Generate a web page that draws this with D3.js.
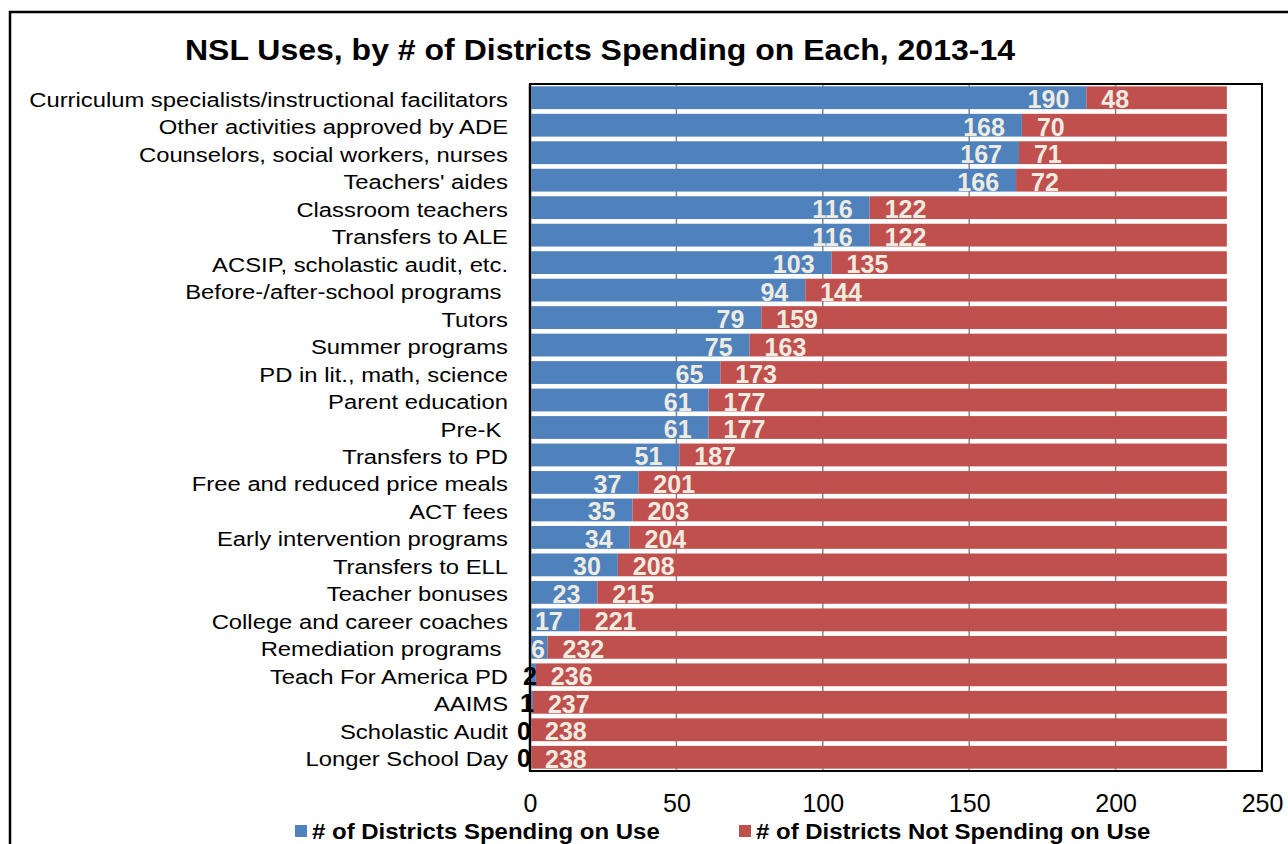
<!DOCTYPE html>
<html>
<head>
<meta charset="utf-8">
<script src="https://cdn.jsdelivr.net/npm/d3@7"></script>
<style>
  html, body { margin: 0; padding: 0; background: #fff; }
  svg { display: block; font-family: "Liberation Sans", Arial, sans-serif; }
  .cat text { white-space: pre; }
</style>
</head>
<body>
<svg id="chart" width="1288" height="844"></svg>
<script>
// Uses of NSL funds, ordered by number of districts spending on each
const categories = [
  "Curriculum specialists/instructional facilitators",
  "Other activities approved by ADE",
  "Counselors, social workers, nurses",
  "Teachers' aides",
  "Classroom teachers",
  "Transfers to ALE",
  "ACSIP, scholastic audit, etc.",
  "Before-/after-school programs ",
  "Tutors",
  "Summer programs",
  "PD in lit., math, science",
  "Parent education",
  "Pre-K ",
  "Transfers to PD",
  "Free and reduced price meals",
  "ACT fees",
  "Early intervention programs",
  "Transfers to ELL",
  "Teacher bonuses",
  "College and career coaches",
  "Remediation programs ",
  "Teach For America PD",
  "AAIMS",
  "Scholastic Audit",
  "Longer School Day"
];
const spending    = [190, 168, 167, 166, 116, 116, 103, 94, 79, 75, 65, 61, 61, 51, 37, 35, 34, 30, 23, 17, 6, 2, 1, 0, 0];
const notSpending = [48, 70, 71, 72, 122, 122, 135, 144, 159, 163, 173, 177, 177, 187, 201, 203, 204, 208, 215, 221, 232, 236, 237, 238, 238];
const xTicks = [0, 50, 100, 150, 200, 250];
const seriesNames = ["# of Districts Spending on Use", "# of Districts Not Spending on Use"];
const chartTitle = "NSL Uses, by # of Districts Spending on Each, 2013-14";

const colors = { spend: "#4f81bd", notSpend: "#c0504d", label: "#eeece1", grid: "#868686" };

const svg = d3.select("#chart");
const plot = { left: 530, right: 1262, top: 84, bottom: 771 };

// widen text horizontally while keeping its height
function stretch(sel, k) {
  sel.each(function () {
    const len = this.getComputedTextLength();
    d3.select(this).attr("textLength", len * k).attr("lengthAdjust", "spacingAndGlyphs");
  });
}

const x = d3.scaleLinear().domain([0, 250]).range([plot.left, plot.right]);
const y = d3.scaleBand().domain(categories).range([plot.top, plot.bottom])
  .paddingInner(0.17).paddingOuter(0.085);

// outer frame
svg.append("path")
  .attr("d", `M10,846 V12 H1290`)
  .attr("fill", "none").attr("stroke", "#000").attr("stroke-width", 2.5);

// title
svg.append("text")
  .attr("x", 600).attr("y", 60)
  .attr("text-anchor", "middle")
  .attr("font-size", 29).attr("font-weight", "bold")
  .attr("textLength", 830).attr("lengthAdjust", "spacingAndGlyphs")
  .text(chartTitle);

// vertical gridlines
svg.append("g").selectAll("line")
  .data(xTicks.slice(1, -1))
  .join("line")
  .attr("x1", d => x(d)).attr("x2", d => x(d))
  .attr("y1", plot.top).attr("y2", plot.bottom)
  .attr("stroke", colors.grid).attr("stroke-width", 1.5);

// stacked bars
const rows = categories.map((c, i) => ({ c, s: spending[i], n: notSpending[i] }));

svg.append("g").selectAll("rect")
  .data(rows)
  .join("rect")
  .attr("x", x(0))
  .attr("y", d => y(d.c))
  .attr("width", d => x(d.s) - x(0))
  .attr("height", y.bandwidth())
  .attr("fill", colors.spend);

svg.append("g").selectAll("rect")
  .data(rows)
  .join("rect")
  .attr("x", d => x(d.s))
  .attr("y", d => y(d.c))
  .attr("width", d => x(d.s + d.n) - x(d.s))
  .attr("height", y.bandwidth())
  .attr("fill", colors.notSpend);

// category axis line
svg.append("line")
  .attr("x1", x(0)).attr("x2", x(0))
  .attr("y1", plot.top).attr("y2", plot.bottom)
  .attr("stroke", colors.grid).attr("stroke-width", 3);

// plot border
svg.append("rect")
  .attr("x", plot.left).attr("y", plot.top)
  .attr("width", plot.right - plot.left).attr("height", plot.bottom - plot.top)
  .attr("fill", "none").attr("stroke", "#000").attr("stroke-width", 2);

// category labels
const yAxis = d3.axisLeft(y).tickSize(0).tickPadding(22);
const yg = svg.append("g").attr("class", "cat").attr("transform", `translate(${x(0)},0)`).call(yAxis);
yg.select(".domain").remove();
yg.selectAll("text")
  .attr("font-size", 20).attr("fill", "#000").attr("dy", "0.45em")
  .attr("font-family", "Liberation Sans, Arial, sans-serif")
  .call(stretch, 1.19);

// x tick labels
const xAxis = d3.axisBottom(x).tickValues(xTicks).tickSize(0).tickPadding(23);
const xg = svg.append("g").attr("transform", `translate(0,${plot.bottom})`).call(xAxis);
xg.select(".domain").remove();
xg.selectAll("text")
  .attr("font-size", 25).attr("fill", "#000")
  .attr("font-family", "Liberation Sans, Arial, sans-serif");

// value labels
const labelG = svg.append("g")
  .attr("font-size", 25).attr("font-weight", "bold");

rows.forEach(d => {
  const cy = y(d.c) + y.bandwidth() / 2;
  if (d.s >= 5) {
    const t = labelG.append("text")
      .attr("y", cy).attr("dy", "0.42em")
      .attr("fill", colors.label)
      .attr("text-anchor", "end")
      .text(d.s);
    const w = t.node().getComputedTextLength();
    t.attr("x", Math.max(x(d.s) - 17, x(0) + w + 1));
  } else {
    labelG.append("text")
      .attr("x", x(d.s) + 1).attr("y", cy).attr("dy", "0.4em")
      .attr("fill", "#000")
      .attr("text-anchor", "end")
      .text(d.s);
  }
  labelG.append("text")
    .attr("x", x(d.s) + 15).attr("y", cy).attr("dy", "0.42em")
    .attr("fill", colors.label)
    .attr("text-anchor", "start")
    .text(d.n);
});

// legend
const legend = svg.append("g").attr("font-size", 22).attr("font-weight", "bold");
[[295, colors.spend, seriesNames[0]], [739, colors.notSpend, seriesNames[1]]].forEach(([lx, col, name]) => {
  legend.append("rect").attr("x", lx).attr("y", 825).attr("width", 12).attr("height", 12).attr("fill", col);
  legend.append("text").attr("x", lx + 17).attr("y", 839).attr("fill", "#000").text(name).call(stretch, 1.09);
});
</script>
</body>
</html>
